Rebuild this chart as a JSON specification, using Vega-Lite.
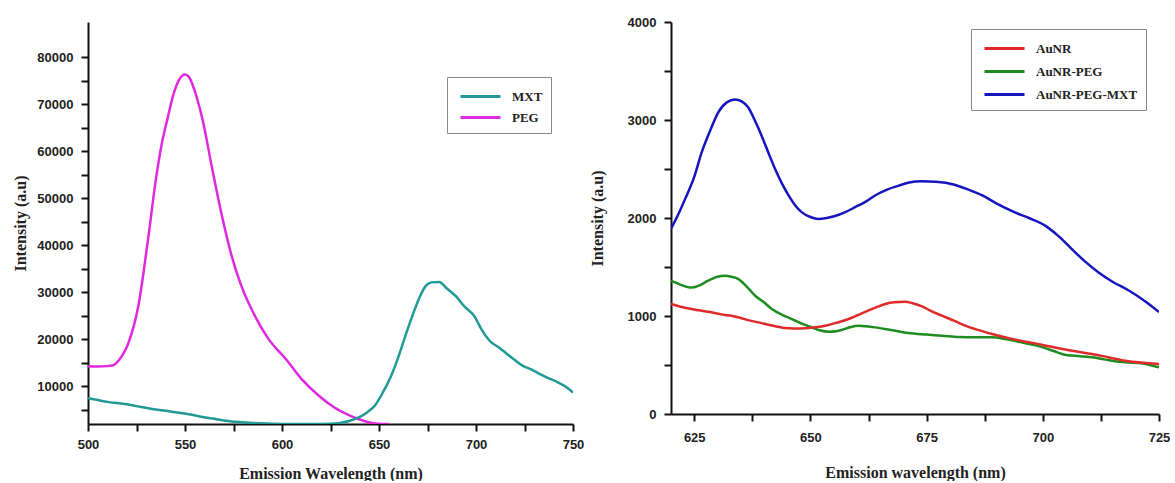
{
  "$schema": "https://vega.github.io/schema/vega-lite/v6.json",
  "background": "white",
  "padding": {"left": 12, "top": 16, "right": 0, "bottom": 0},
  "spacing": 5,
  "datasets": {
    "left": [
      {"wl": 500, "intensity": 14300, "series": "PEG"},
      {"wl": 505, "intensity": 14200, "series": "PEG"},
      {"wl": 510, "intensity": 14300, "series": "PEG"},
      {"wl": 513, "intensity": 14500, "series": "PEG"},
      {"wl": 516, "intensity": 15600, "series": "PEG"},
      {"wl": 521, "intensity": 19400, "series": "PEG"},
      {"wl": 526, "intensity": 27200, "series": "PEG"},
      {"wl": 531, "intensity": 41400, "series": "PEG"},
      {"wl": 535, "intensity": 54000, "series": "PEG"},
      {"wl": 538, "intensity": 61500, "series": "PEG"},
      {"wl": 541, "intensity": 66900, "series": "PEG"},
      {"wl": 544, "intensity": 72000, "series": "PEG"},
      {"wl": 547, "intensity": 75200, "series": "PEG"},
      {"wl": 550, "intensity": 76300, "series": "PEG"},
      {"wl": 552, "intensity": 75800, "series": "PEG"},
      {"wl": 554, "intensity": 74000, "series": "PEG"},
      {"wl": 556, "intensity": 71500, "series": "PEG"},
      {"wl": 559, "intensity": 66800, "series": "PEG"},
      {"wl": 564, "intensity": 56300, "series": "PEG"},
      {"wl": 569, "intensity": 46300, "series": "PEG"},
      {"wl": 574, "intensity": 37800, "series": "PEG"},
      {"wl": 579, "intensity": 31400, "series": "PEG"},
      {"wl": 586, "intensity": 25000, "series": "PEG"},
      {"wl": 593, "intensity": 20100, "series": "PEG"},
      {"wl": 602, "intensity": 15800, "series": "PEG"},
      {"wl": 610, "intensity": 11600, "series": "PEG"},
      {"wl": 619, "intensity": 8000, "series": "PEG"},
      {"wl": 627, "intensity": 5500, "series": "PEG"},
      {"wl": 635, "intensity": 3800, "series": "PEG"},
      {"wl": 642, "intensity": 2700, "series": "PEG"},
      {"wl": 648, "intensity": 2100, "series": "PEG"},
      {"wl": 655, "intensity": 2000, "series": "PEG"},
      {"wl": 500, "intensity": 7500, "series": "MXT"},
      {"wl": 505, "intensity": 7100, "series": "MXT"},
      {"wl": 510, "intensity": 6700, "series": "MXT"},
      {"wl": 516, "intensity": 6400, "series": "MXT"},
      {"wl": 524, "intensity": 5900, "series": "MXT"},
      {"wl": 533, "intensity": 5200, "series": "MXT"},
      {"wl": 540, "intensity": 4800, "series": "MXT"},
      {"wl": 547, "intensity": 4400, "series": "MXT"},
      {"wl": 553, "intensity": 4000, "series": "MXT"},
      {"wl": 559, "intensity": 3500, "series": "MXT"},
      {"wl": 565, "intensity": 3100, "series": "MXT"},
      {"wl": 571, "intensity": 2700, "series": "MXT"},
      {"wl": 578, "intensity": 2400, "series": "MXT"},
      {"wl": 585, "intensity": 2200, "series": "MXT"},
      {"wl": 595, "intensity": 2050, "series": "MXT"},
      {"wl": 605, "intensity": 2000, "series": "MXT"},
      {"wl": 615, "intensity": 2000, "series": "MXT"},
      {"wl": 625, "intensity": 2050, "series": "MXT"},
      {"wl": 635, "intensity": 2700, "series": "MXT"},
      {"wl": 644, "intensity": 4500, "series": "MXT"},
      {"wl": 648, "intensity": 6000, "series": "MXT"},
      {"wl": 652, "intensity": 8700, "series": "MXT"},
      {"wl": 656, "intensity": 12000, "series": "MXT"},
      {"wl": 659, "intensity": 15100, "series": "MXT"},
      {"wl": 663, "intensity": 20000, "series": "MXT"},
      {"wl": 666, "intensity": 23600, "series": "MXT"},
      {"wl": 671, "intensity": 29000, "series": "MXT"},
      {"wl": 674, "intensity": 31300, "series": "MXT"},
      {"wl": 677, "intensity": 32100, "series": "MXT"},
      {"wl": 681, "intensity": 32200, "series": "MXT"},
      {"wl": 685, "intensity": 30800, "series": "MXT"},
      {"wl": 690, "intensity": 29000, "series": "MXT"},
      {"wl": 694, "intensity": 27000, "series": "MXT"},
      {"wl": 699, "intensity": 25000, "series": "MXT"},
      {"wl": 703, "intensity": 22000, "series": "MXT"},
      {"wl": 707, "intensity": 19700, "series": "MXT"},
      {"wl": 712, "intensity": 18200, "series": "MXT"},
      {"wl": 716, "intensity": 16900, "series": "MXT"},
      {"wl": 720, "intensity": 15600, "series": "MXT"},
      {"wl": 724, "intensity": 14400, "series": "MXT"},
      {"wl": 729, "intensity": 13500, "series": "MXT"},
      {"wl": 733, "intensity": 12600, "series": "MXT"},
      {"wl": 737, "intensity": 11800, "series": "MXT"},
      {"wl": 742, "intensity": 10900, "series": "MXT"},
      {"wl": 746, "intensity": 10000, "series": "MXT"},
      {"wl": 750, "intensity": 8700, "series": "MXT"}
    ],
    "right": [
      {"wl": 620, "intensity": 1890, "series": "AuNR-PEG-MXT"},
      {"wl": 621.5, "intensity": 2030, "series": "AuNR-PEG-MXT"},
      {"wl": 623, "intensity": 2190, "series": "AuNR-PEG-MXT"},
      {"wl": 625, "intensity": 2420, "series": "AuNR-PEG-MXT"},
      {"wl": 626.6, "intensity": 2670, "series": "AuNR-PEG-MXT"},
      {"wl": 628.5, "intensity": 2900, "series": "AuNR-PEG-MXT"},
      {"wl": 630.2, "intensity": 3080, "series": "AuNR-PEG-MXT"},
      {"wl": 632, "intensity": 3180, "series": "AuNR-PEG-MXT"},
      {"wl": 633.8, "intensity": 3210, "series": "AuNR-PEG-MXT"},
      {"wl": 635.2, "intensity": 3190, "series": "AuNR-PEG-MXT"},
      {"wl": 636.6, "intensity": 3130, "series": "AuNR-PEG-MXT"},
      {"wl": 638, "intensity": 3000, "series": "AuNR-PEG-MXT"},
      {"wl": 639.5, "intensity": 2840, "series": "AuNR-PEG-MXT"},
      {"wl": 641, "intensity": 2660, "series": "AuNR-PEG-MXT"},
      {"wl": 642.4, "intensity": 2500, "series": "AuNR-PEG-MXT"},
      {"wl": 644, "intensity": 2340, "series": "AuNR-PEG-MXT"},
      {"wl": 645.3, "intensity": 2230, "series": "AuNR-PEG-MXT"},
      {"wl": 646.7, "intensity": 2130, "series": "AuNR-PEG-MXT"},
      {"wl": 648.1, "intensity": 2060, "series": "AuNR-PEG-MXT"},
      {"wl": 650, "intensity": 2010, "series": "AuNR-PEG-MXT"},
      {"wl": 651.7, "intensity": 1990, "series": "AuNR-PEG-MXT"},
      {"wl": 653.5, "intensity": 2000, "series": "AuNR-PEG-MXT"},
      {"wl": 655.3, "intensity": 2020, "series": "AuNR-PEG-MXT"},
      {"wl": 657.5, "intensity": 2060, "series": "AuNR-PEG-MXT"},
      {"wl": 659.6, "intensity": 2110, "series": "AuNR-PEG-MXT"},
      {"wl": 662, "intensity": 2170, "series": "AuNR-PEG-MXT"},
      {"wl": 663.9, "intensity": 2230, "series": "AuNR-PEG-MXT"},
      {"wl": 666.5, "intensity": 2290, "series": "AuNR-PEG-MXT"},
      {"wl": 669, "intensity": 2330, "series": "AuNR-PEG-MXT"},
      {"wl": 671, "intensity": 2360, "series": "AuNR-PEG-MXT"},
      {"wl": 674, "intensity": 2375, "series": "AuNR-PEG-MXT"},
      {"wl": 677, "intensity": 2370, "series": "AuNR-PEG-MXT"},
      {"wl": 681, "intensity": 2340, "series": "AuNR-PEG-MXT"},
      {"wl": 684, "intensity": 2290, "series": "AuNR-PEG-MXT"},
      {"wl": 687, "intensity": 2230, "series": "AuNR-PEG-MXT"},
      {"wl": 690, "intensity": 2150, "series": "AuNR-PEG-MXT"},
      {"wl": 693.4, "intensity": 2070, "series": "AuNR-PEG-MXT"},
      {"wl": 697, "intensity": 2000, "series": "AuNR-PEG-MXT"},
      {"wl": 700.6, "intensity": 1920, "series": "AuNR-PEG-MXT"},
      {"wl": 703.5, "intensity": 1810, "series": "AuNR-PEG-MXT"},
      {"wl": 706.3, "intensity": 1680, "series": "AuNR-PEG-MXT"},
      {"wl": 709, "intensity": 1560, "series": "AuNR-PEG-MXT"},
      {"wl": 712, "intensity": 1445, "series": "AuNR-PEG-MXT"},
      {"wl": 715, "intensity": 1350, "series": "AuNR-PEG-MXT"},
      {"wl": 718.5, "intensity": 1260, "series": "AuNR-PEG-MXT"},
      {"wl": 722, "intensity": 1150, "series": "AuNR-PEG-MXT"},
      {"wl": 725, "intensity": 1040, "series": "AuNR-PEG-MXT"},
      {"wl": 620, "intensity": 1360, "series": "AuNR-PEG"},
      {"wl": 622, "intensity": 1320, "series": "AuNR-PEG"},
      {"wl": 624.4, "intensity": 1290, "series": "AuNR-PEG"},
      {"wl": 626, "intensity": 1310, "series": "AuNR-PEG"},
      {"wl": 628, "intensity": 1360, "series": "AuNR-PEG"},
      {"wl": 630, "intensity": 1400, "series": "AuNR-PEG"},
      {"wl": 631.6, "intensity": 1410, "series": "AuNR-PEG"},
      {"wl": 633, "intensity": 1400, "series": "AuNR-PEG"},
      {"wl": 634.5, "intensity": 1377, "series": "AuNR-PEG"},
      {"wl": 636.3, "intensity": 1300, "series": "AuNR-PEG"},
      {"wl": 638.1, "intensity": 1207, "series": "AuNR-PEG"},
      {"wl": 640, "intensity": 1140, "series": "AuNR-PEG"},
      {"wl": 641.7, "intensity": 1071, "series": "AuNR-PEG"},
      {"wl": 644, "intensity": 1010, "series": "AuNR-PEG"},
      {"wl": 646, "intensity": 969, "series": "AuNR-PEG"},
      {"wl": 648, "intensity": 925, "series": "AuNR-PEG"},
      {"wl": 650.3, "intensity": 884, "series": "AuNR-PEG"},
      {"wl": 652, "intensity": 855, "series": "AuNR-PEG"},
      {"wl": 653.9, "intensity": 840, "series": "AuNR-PEG"},
      {"wl": 655.5, "intensity": 845, "series": "AuNR-PEG"},
      {"wl": 656.7, "intensity": 857, "series": "AuNR-PEG"},
      {"wl": 658.5, "intensity": 885, "series": "AuNR-PEG"},
      {"wl": 660.3, "intensity": 901, "series": "AuNR-PEG"},
      {"wl": 662, "intensity": 895, "series": "AuNR-PEG"},
      {"wl": 663.9, "intensity": 884, "series": "AuNR-PEG"},
      {"wl": 667, "intensity": 860, "series": "AuNR-PEG"},
      {"wl": 671, "intensity": 826, "series": "AuNR-PEG"},
      {"wl": 675, "intensity": 810, "series": "AuNR-PEG"},
      {"wl": 678.3, "intensity": 799, "series": "AuNR-PEG"},
      {"wl": 682, "intensity": 785, "series": "AuNR-PEG"},
      {"wl": 685.5, "intensity": 782, "series": "AuNR-PEG"},
      {"wl": 689, "intensity": 782, "series": "AuNR-PEG"},
      {"wl": 692, "intensity": 765, "series": "AuNR-PEG"},
      {"wl": 696.3, "intensity": 721, "series": "AuNR-PEG"},
      {"wl": 700, "intensity": 680, "series": "AuNR-PEG"},
      {"wl": 702.5, "intensity": 640, "series": "AuNR-PEG"},
      {"wl": 705, "intensity": 602, "series": "AuNR-PEG"},
      {"wl": 708, "intensity": 590, "series": "AuNR-PEG"},
      {"wl": 710.7, "intensity": 578, "series": "AuNR-PEG"},
      {"wl": 713.5, "intensity": 555, "series": "AuNR-PEG"},
      {"wl": 716.4, "intensity": 533, "series": "AuNR-PEG"},
      {"wl": 718.5, "intensity": 525, "series": "AuNR-PEG"},
      {"wl": 720.7, "intensity": 520, "series": "AuNR-PEG"},
      {"wl": 723, "intensity": 500, "series": "AuNR-PEG"},
      {"wl": 725, "intensity": 476, "series": "AuNR-PEG"},
      {"wl": 620, "intensity": 1122, "series": "AuNR"},
      {"wl": 622, "intensity": 1095, "series": "AuNR"},
      {"wl": 624.4, "intensity": 1071, "series": "AuNR"},
      {"wl": 626, "intensity": 1058, "series": "AuNR"},
      {"wl": 628, "intensity": 1043, "series": "AuNR"},
      {"wl": 630, "intensity": 1025, "series": "AuNR"},
      {"wl": 631.6, "intensity": 1010, "series": "AuNR"},
      {"wl": 633, "intensity": 1003, "series": "AuNR"},
      {"wl": 635, "intensity": 980, "series": "AuNR"},
      {"wl": 636.8, "intensity": 955, "series": "AuNR"},
      {"wl": 638.8, "intensity": 935, "series": "AuNR"},
      {"wl": 641.5, "intensity": 905, "series": "AuNR"},
      {"wl": 644.5, "intensity": 877, "series": "AuNR"},
      {"wl": 646.5, "intensity": 872, "series": "AuNR"},
      {"wl": 648.9, "intensity": 874, "series": "AuNR"},
      {"wl": 651, "intensity": 885, "series": "AuNR"},
      {"wl": 653.2, "intensity": 901, "series": "AuNR"},
      {"wl": 655.5, "intensity": 930, "series": "AuNR"},
      {"wl": 658.2, "intensity": 969, "series": "AuNR"},
      {"wl": 660, "intensity": 1005, "series": "AuNR"},
      {"wl": 661.8, "intensity": 1043, "series": "AuNR"},
      {"wl": 664, "intensity": 1085, "series": "AuNR"},
      {"wl": 666.1, "intensity": 1122, "series": "AuNR"},
      {"wl": 668, "intensity": 1140, "series": "AuNR"},
      {"wl": 670.4, "intensity": 1145, "series": "AuNR"},
      {"wl": 672, "intensity": 1130, "series": "AuNR"},
      {"wl": 674, "intensity": 1099, "series": "AuNR"},
      {"wl": 676, "intensity": 1050, "series": "AuNR"},
      {"wl": 678.3, "intensity": 1003, "series": "AuNR"},
      {"wl": 681, "intensity": 950, "series": "AuNR"},
      {"wl": 683.3, "intensity": 901, "series": "AuNR"},
      {"wl": 686, "intensity": 858, "series": "AuNR"},
      {"wl": 689.1, "intensity": 816, "series": "AuNR"},
      {"wl": 692.5, "intensity": 775, "series": "AuNR"},
      {"wl": 696.3, "intensity": 738, "series": "AuNR"},
      {"wl": 700, "intensity": 705, "series": "AuNR"},
      {"wl": 703.4, "intensity": 670, "series": "AuNR"},
      {"wl": 707, "intensity": 640, "series": "AuNR"},
      {"wl": 710.6, "intensity": 612, "series": "AuNR"},
      {"wl": 714, "intensity": 580, "series": "AuNR"},
      {"wl": 717.8, "intensity": 544, "series": "AuNR"},
      {"wl": 721, "intensity": 525, "series": "AuNR"},
      {"wl": 725, "intensity": 510, "series": "AuNR"}
    ]
  },
  "config": {
    "view": {"stroke": null},
    "axis": {
      "grid": false,
      "domainColor": "#111111",
      "domainWidth": 2,
      "tickColor": "#111111",
      "tickWidth": 2,
      "tickSize": 7,
      "labelFont": "Liberation Sans",
      "labelFontWeight": "bold",
      "labelFontSize": 13,
      "labelColor": "#222222",
      "labelFlush": false,
      "labelOverlap": false,
      "titleFont": "Liberation Serif",
      "titleFontWeight": "bold",
      "titleFontSize": 16,
      "titleColor": "#222222"
    },
    "legend": {
      "labelFont": "Liberation Serif",
      "labelFontWeight": "bold",
      "labelFontSize": 13,
      "labelColor": "#222222",
      "strokeColor": "#888888",
      "fillColor": "white",
      "padding": 8,
      "symbolSize": 400,
      "symbolStrokeWidth": 3,
      "symbolOffset": 14,
      "labelOffset": 20
    }
  },
  "resolve": {"scale": {"color": "independent"}, "legend": {"color": "independent"}},
  "hconcat": [
    {
      "width": 485,
      "height": 402,
      "data": {"name": "left"},
      "mark": {"type": "line", "strokeWidth": 2.5, "clip": true, "interpolate": "monotone"},
      "encoding": {
        "x": {
          "field": "wl", "type": "quantitative",
          "scale": {"domain": [500, 750], "nice": false, "zero": false},
          "axis": {
            "title": "Emission Wavelength (nm)",
            "values": [500, 525, 550, 575, 600, 625, 650, 675, 700, 725, 750],
            "labelExpr": "datum.value % 50 == 0 ? datum.label : ''",
            "format": "d", "labelPadding": 7, "titlePadding": 14
          }
        },
        "y": {
          "field": "intensity", "type": "quantitative",
          "scale": {"domain": [2000, 87440], "nice": false, "zero": false},
          "axis": {
            "title": "Intensity (a.u)",
            "values": [5000, 10000, 15000, 20000, 25000, 30000, 35000, 40000, 45000, 50000, 55000, 60000, 65000, 70000, 75000, 80000],
            "labelExpr": "datum.value % 10000 == 0 ? datum.label : ''",
            "format": "d", "labelPadding": 8, "titlePadding": 8
          }
        },
        "color": {
          "field": "series", "type": "nominal",
          "scale": {"domain": ["MXT", "PEG"], "range": ["#1f9a96", "#e028e0"]},
          "legend": {"title": null, "orient": "none", "legendX": 359, "legendY": 55, "symbolType": "M-2,0L2,0", "rowPadding": 2}
        }
      }
    },
    {
      "width": 488,
      "height": 392,
      "data": {"name": "right"},
      "mark": {"type": "line", "strokeWidth": 2.5, "clip": true, "interpolate": "monotone"},
      "encoding": {
        "x": {
          "field": "wl", "type": "quantitative",
          "scale": {"domain": [620, 725], "nice": false, "zero": false},
          "axis": {
            "title": "Emission wavelength (nm)",
            "values": [625, 637.5, 650, 662.5, 675, 687.5, 700, 712.5, 725],
            "labelExpr": "datum.value % 25 == 0 ? datum.label : ''",
            "format": "d", "labelPadding": 10, "titlePadding": 20
          }
        },
        "y": {
          "field": "intensity", "type": "quantitative",
          "scale": {"domain": [0, 4000], "nice": false},
          "axis": {
            "title": "Intensity (a.u)",
            "values": [0, 500, 1000, 1500, 2000, 2500, 3000, 3500, 4000],
            "labelExpr": "datum.value % 1000 == 0 ? datum.label : ''",
            "format": "d", "labelPadding": 8, "titlePadding": 22
          }
        },
        "color": {
          "field": "series", "type": "nominal",
          "scale": {"domain": ["AuNR", "AuNR-PEG", "AuNR-PEG-MXT"], "range": ["#e02a2a", "#1e8c1e", "#1515c0"]},
          "legend": {"title": null, "orient": "none", "legendX": 300, "legendY": 7, "symbolType": "M-2,0L2,0", "rowPadding": 4}
        }
      }
    }
  ]
}
